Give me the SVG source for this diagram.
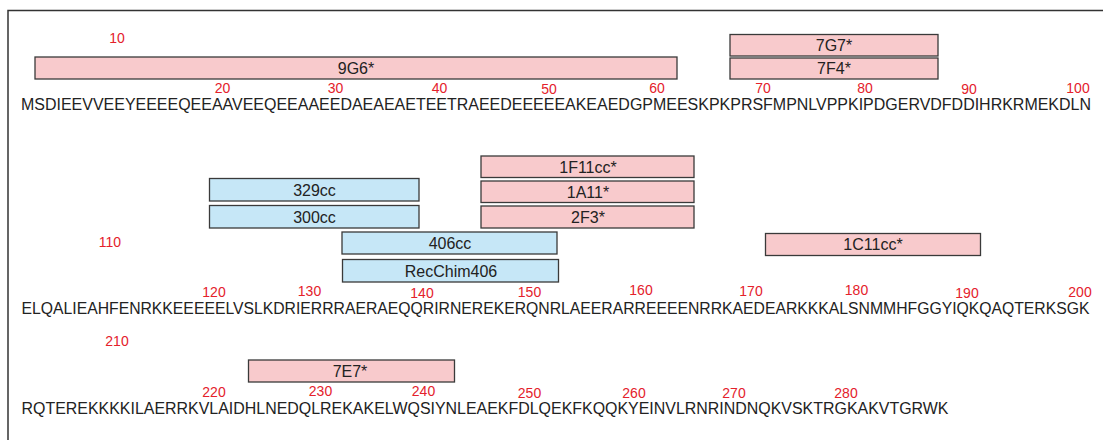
<svg xmlns="http://www.w3.org/2000/svg" width="1103" height="440" viewBox="0 0 1103 440">
<style>
.frame{fill:none;stroke:#333;stroke-width:1.5}
.box{stroke:#3a3a3a;stroke-width:1.3}
.pink{fill:#f8cacc}
.blue{fill:#c6e7f7}
.lbl{font-family:"Liberation Sans",Arial,sans-serif;font-size:16px;fill:#222;text-anchor:middle}
.num{font-family:"Liberation Sans",Arial,sans-serif;font-size:14px;fill:#e4212b;text-anchor:middle}
.seq{font-family:"Liberation Sans",Arial,sans-serif;font-size:15.6px;fill:#222}
</style>
<rect width="1103" height="440" fill="#fff"/>
<path class="frame" d="M8,441 V10.5 H1103"/>
<g id="connectors"/>
<!-- line 1 -->
<text class="num" x="117" y="43">10</text>
<g id="n9G6"><rect class="box pink" x="35" y="57" width="642" height="22"/><text class="lbl" x="356" y="73.5">9G6*</text></g>
<g id="n7G7"><rect class="box pink" x="730" y="34.5" width="208" height="21.5"/><text class="lbl" x="834" y="51">7G7*</text></g>
<g id="n7F4"><rect class="box pink" x="730" y="58" width="208" height="21"/><text class="lbl" x="834" y="74">7F4*</text></g>
<g>
<text class="num" x="222.5" y="93">20</text>
<text class="num" x="335.5" y="93">30</text>
<text class="num" x="439.5" y="93">40</text>
<text class="num" x="549" y="93.5">50</text>
<text class="num" x="657" y="92.5">60</text>
<text class="num" x="763" y="93">70</text>
<text class="num" x="865" y="93">80</text>
<text class="num" x="969" y="93.5">90</text>
<text class="num" x="1078" y="93">100</text>
</g>
<text class="seq" x="21" y="110" textLength="1070" lengthAdjust="spacingAndGlyphs">MSDIEEVVEEYEEEEQEEAAVEEQEEAAEEDAEAEAETEETRAEEDEEEEEAKEAEDGPMEESKPKPRSFMPNLVPPKIPDGERVDFDDIHRKRMEKDLN</text>
<!-- line 2 -->
<g id="n1F11cc"><rect class="box pink" x="481" y="156" width="213" height="21.5"/><text class="lbl" x="588" y="172.5">1F11cc*</text></g>
<g id="n1A11"><rect class="box pink" x="481" y="181" width="213" height="21.5"/><text class="lbl" x="588" y="197.5">1A11*</text></g>
<g id="n2F3"><rect class="box pink" x="481" y="206" width="213" height="22"/><text class="lbl" x="588" y="222.5">2F3*</text></g>
<g id="n329cc"><rect class="box blue" x="209.5" y="178.5" width="209.5" height="22.5"/><text class="lbl" x="314.5" y="195.5">329cc</text></g>
<g id="n300cc"><rect class="box blue" x="209.5" y="205.5" width="209.5" height="22.5"/><text class="lbl" x="314.5" y="222.5">300cc</text></g>
<g id="n406cc"><rect class="box blue" x="342" y="232" width="215" height="22"/><text class="lbl" x="450" y="249">406cc</text></g>
<g id="nRecChim406"><rect class="box blue" x="342.5" y="259.5" width="216" height="22.5"/><text class="lbl" x="451" y="276.5">RecChim406</text></g>
<g id="n1C11cc"><rect class="box pink" x="765.5" y="233.5" width="215" height="22"/><text class="lbl" x="873" y="250">1C11cc*</text></g>
<g>
<text class="num" x="110" y="247">110</text>
<text class="num" x="214" y="297">120</text>
<text class="num" x="309.5" y="296">130</text>
<text class="num" x="422" y="297.5">140</text>
<text class="num" x="529.5" y="297">150</text>
<text class="num" x="641" y="295">160</text>
<text class="num" x="751" y="296">170</text>
<text class="num" x="856.5" y="295">180</text>
<text class="num" x="967" y="297.5">190</text>
<text class="num" x="1080" y="297">200</text>
</g>
<text class="seq" x="21.5" y="314" textLength="1068" lengthAdjust="spacingAndGlyphs">ELQALIEAHFENRKKEEEEELVSLKDRIERRRAERAEQQRIRNEREKERQNRLAEERARREEEENRRKAEDEARKKKALSNMMHFGGYIQKQAQTERKSGK</text>
<!-- line 3 -->
<text class="num" x="117" y="346">210</text>
<g id="n7E7"><rect class="box pink" x="248.5" y="360" width="206" height="22"/><text class="lbl" x="350" y="376.5">7E7*</text></g>
<g>
<text class="num" x="214" y="397">220</text>
<text class="num" x="320.5" y="396">230</text>
<text class="num" x="423.5" y="396">240</text>
<text class="num" x="529.5" y="397.5">250</text>
<text class="num" x="634" y="397.5">260</text>
<text class="num" x="734" y="397.5">270</text>
<text class="num" x="846" y="397.5">280</text>
</g>
<text class="seq" x="21.5" y="414" textLength="927" lengthAdjust="spacingAndGlyphs">RQTEREKKKKILAERRKVLAIDHLNEDQLREKAKELWQSIYNLEAEKFDLQEKFKQQKYEINVLRNRINDNQKVSKTRGKAKVTGRWK</text>
</svg>
